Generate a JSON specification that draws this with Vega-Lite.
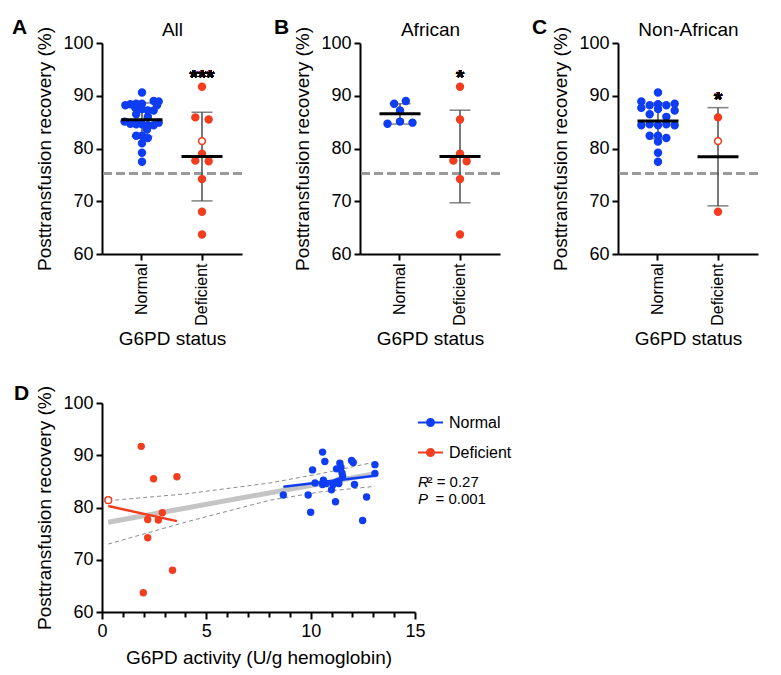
{
  "$schema": "https://vega.github.io/schema/vega-lite/v6.json",
  "padding": {"left": 12, "top": 17, "right": 5, "bottom": 5},
  "config": {
    "font": "Liberation Sans",
    "view": {"stroke": null},
    "axis": {"domainColor": "black", "domainWidth": 2, "tickColor": "black", "tickWidth": 2, "tickSize": 6, "labelFontSize": 18, "labelColor": "black", "titleFontSize": 19, "titleFontWeight": "normal", "titleColor": "black", "grid": false, "labelPadding": 3, "titlePadding": 8},
    "title": {"color": "black", "fontWeight": "bold", "fontSize": 21}
  },
  "datasets": {
    "swarm": [
      {"panel": "All", "status": "Normal", "recovery": 90.6, "slot": 0, "open": 0},
      {"panel": "All", "status": "Normal", "recovery": 89.0, "slot": 1.4, "open": 0},
      {"panel": "All", "status": "Normal", "recovery": 88.9, "slot": 2.0, "open": 0},
      {"panel": "All", "status": "Normal", "recovery": 88.5, "slot": 0, "open": 0},
      {"panel": "All", "status": "Normal", "recovery": 88.5, "slot": -0.7, "open": 0},
      {"panel": "All", "status": "Normal", "recovery": 88.4, "slot": -1.4, "open": 0},
      {"panel": "All", "status": "Normal", "recovery": 88.2, "slot": -2.0, "open": 0},
      {"panel": "All", "status": "Normal", "recovery": 88.2, "slot": 1.8, "open": 0},
      {"panel": "All", "status": "Normal", "recovery": 87.7, "slot": -0.8, "open": 0},
      {"panel": "All", "status": "Normal", "recovery": 87.5, "slot": 0, "open": 0},
      {"panel": "All", "status": "Normal", "recovery": 87.2, "slot": 0.7, "open": 0},
      {"panel": "All", "status": "Normal", "recovery": 87.2, "slot": 1.4, "open": 0},
      {"panel": "All", "status": "Normal", "recovery": 86.5, "slot": -0.7, "open": 0},
      {"panel": "All", "status": "Normal", "recovery": 86.0, "slot": 0.7, "open": 0},
      {"panel": "All", "status": "Normal", "recovery": 85.1, "slot": -2.1, "open": 0},
      {"panel": "All", "status": "Normal", "recovery": 84.9, "slot": 2.0, "open": 0},
      {"panel": "All", "status": "Normal", "recovery": 84.7, "slot": -1.4, "open": 0},
      {"panel": "All", "status": "Normal", "recovery": 84.6, "slot": -0.7, "open": 0},
      {"panel": "All", "status": "Normal", "recovery": 84.6, "slot": 0, "open": 0},
      {"panel": "All", "status": "Normal", "recovery": 84.4, "slot": 0.7, "open": 0},
      {"panel": "All", "status": "Normal", "recovery": 84.4, "slot": 1.4, "open": 0},
      {"panel": "All", "status": "Normal", "recovery": 83.6, "slot": 0.6, "open": 0},
      {"panel": "All", "status": "Normal", "recovery": 82.4, "slot": -0.7, "open": 0},
      {"panel": "All", "status": "Normal", "recovery": 82.4, "slot": 0, "open": 0},
      {"panel": "All", "status": "Normal", "recovery": 82.0, "slot": 0.7, "open": 0},
      {"panel": "All", "status": "Normal", "recovery": 81.0, "slot": 0, "open": 0},
      {"panel": "All", "status": "Normal", "recovery": 79.2, "slot": 0, "open": 0},
      {"panel": "All", "status": "Normal", "recovery": 77.5, "slot": 0, "open": 0},
      {"panel": "All", "status": "Deficient", "recovery": 91.7, "slot": 0, "open": 0},
      {"panel": "All", "status": "Deficient", "recovery": 85.9, "slot": -0.8, "open": 0},
      {"panel": "All", "status": "Deficient", "recovery": 85.5, "slot": 0.8, "open": 0},
      {"panel": "All", "status": "Deficient", "recovery": 81.4, "slot": 0, "open": 1},
      {"panel": "All", "status": "Deficient", "recovery": 79.0, "slot": 0, "open": 0},
      {"panel": "All", "status": "Deficient", "recovery": 77.7, "slot": -0.8, "open": 0},
      {"panel": "All", "status": "Deficient", "recovery": 77.6, "slot": 0.8, "open": 0},
      {"panel": "All", "status": "Deficient", "recovery": 74.2, "slot": 0, "open": 0},
      {"panel": "All", "status": "Deficient", "recovery": 68.0, "slot": 0, "open": 0},
      {"panel": "All", "status": "Deficient", "recovery": 63.7, "slot": 0, "open": 0},
      {"panel": "African", "status": "Normal", "recovery": 88.5, "slot": -0.7, "open": 0},
      {"panel": "African", "status": "Normal", "recovery": 89.0, "slot": 0.7, "open": 0},
      {"panel": "African", "status": "Normal", "recovery": 87.2, "slot": 0, "open": 0},
      {"panel": "African", "status": "Normal", "recovery": 84.7, "slot": -1.5, "open": 0},
      {"panel": "African", "status": "Normal", "recovery": 85.1, "slot": 0, "open": 0},
      {"panel": "African", "status": "Normal", "recovery": 84.9, "slot": 1.5, "open": 0},
      {"panel": "African", "status": "Deficient", "recovery": 91.7, "slot": 0, "open": 0},
      {"panel": "African", "status": "Deficient", "recovery": 85.5, "slot": 0, "open": 0},
      {"panel": "African", "status": "Deficient", "recovery": 79.0, "slot": 0, "open": 0},
      {"panel": "African", "status": "Deficient", "recovery": 77.7, "slot": -0.8, "open": 0},
      {"panel": "African", "status": "Deficient", "recovery": 77.6, "slot": 0.8, "open": 0},
      {"panel": "African", "status": "Deficient", "recovery": 74.2, "slot": 0, "open": 0},
      {"panel": "African", "status": "Deficient", "recovery": 63.7, "slot": 0, "open": 0},
      {"panel": "Non-African", "status": "Normal", "recovery": 90.6, "slot": 0, "open": 0},
      {"panel": "Non-African", "status": "Normal", "recovery": 88.9, "slot": -2, "open": 0},
      {"panel": "Non-African", "status": "Normal", "recovery": 88.5, "slot": 2, "open": 0},
      {"panel": "Non-African", "status": "Normal", "recovery": 88.2, "slot": -1, "open": 0},
      {"panel": "Non-African", "status": "Normal", "recovery": 88.4, "slot": 0, "open": 0},
      {"panel": "Non-African", "status": "Normal", "recovery": 88.2, "slot": 1, "open": 0},
      {"panel": "Non-African", "status": "Normal", "recovery": 87.7, "slot": -2, "open": 0},
      {"panel": "Non-African", "status": "Normal", "recovery": 87.5, "slot": 0, "open": 0},
      {"panel": "Non-African", "status": "Normal", "recovery": 87.2, "slot": 2, "open": 0},
      {"panel": "Non-African", "status": "Normal", "recovery": 86.5, "slot": -1, "open": 0},
      {"panel": "Non-African", "status": "Normal", "recovery": 86.0, "slot": 1, "open": 0},
      {"panel": "Non-African", "status": "Normal", "recovery": 84.4, "slot": -2, "open": 0},
      {"panel": "Non-African", "status": "Normal", "recovery": 84.6, "slot": -1, "open": 0},
      {"panel": "Non-African", "status": "Normal", "recovery": 84.4, "slot": 0, "open": 0},
      {"panel": "Non-African", "status": "Normal", "recovery": 84.6, "slot": 1, "open": 0},
      {"panel": "Non-African", "status": "Normal", "recovery": 84.4, "slot": 2, "open": 0},
      {"panel": "Non-African", "status": "Normal", "recovery": 82.4, "slot": -1, "open": 0},
      {"panel": "Non-African", "status": "Normal", "recovery": 82.4, "slot": 0, "open": 0},
      {"panel": "Non-African", "status": "Normal", "recovery": 82.0, "slot": 1, "open": 0},
      {"panel": "Non-African", "status": "Normal", "recovery": 81.3, "slot": 0, "open": 0},
      {"panel": "Non-African", "status": "Normal", "recovery": 79.2, "slot": 0, "open": 0},
      {"panel": "Non-African", "status": "Normal", "recovery": 77.5, "slot": 0, "open": 0},
      {"panel": "Non-African", "status": "Deficient", "recovery": 85.9, "slot": 0, "open": 0},
      {"panel": "Non-African", "status": "Deficient", "recovery": 81.4, "slot": 0, "open": 1},
      {"panel": "Non-African", "status": "Deficient", "recovery": 68.0, "slot": 0, "open": 0}
    ],
    "activity": [
      {"status": "Normal", "activity": 10.57, "recovery": 90.6, "open": 0},
      {"status": "Normal", "activity": 10.68, "recovery": 88.8, "open": 0},
      {"status": "Normal", "activity": 11.40, "recovery": 88.5, "open": 0},
      {"status": "Normal", "activity": 11.96, "recovery": 89.0, "open": 0},
      {"status": "Normal", "activity": 12.04, "recovery": 88.6, "open": 0},
      {"status": "Normal", "activity": 13.08, "recovery": 88.2, "open": 0},
      {"status": "Normal", "activity": 10.09, "recovery": 87.2, "open": 0},
      {"status": "Normal", "activity": 11.24, "recovery": 87.4, "open": 0},
      {"status": "Normal", "activity": 11.45, "recovery": 87.7, "open": 0},
      {"status": "Normal", "activity": 13.08, "recovery": 86.5, "open": 0},
      {"status": "Normal", "activity": 11.53, "recovery": 86.0, "open": 0},
      {"status": "Normal", "activity": 10.61, "recovery": 85.2, "open": 0},
      {"status": "Normal", "activity": 10.21, "recovery": 84.7, "open": 0},
      {"status": "Normal", "activity": 10.57, "recovery": 84.4, "open": 0},
      {"status": "Normal", "activity": 11.24, "recovery": 84.9, "open": 0},
      {"status": "Normal", "activity": 11.35, "recovery": 85.1, "open": 0},
      {"status": "Normal", "activity": 12.10, "recovery": 84.4, "open": 0},
      {"status": "Normal", "activity": 11.08, "recovery": 84.4, "open": 0},
      {"status": "Normal", "activity": 11.00, "recovery": 83.4, "open": 0},
      {"status": "Normal", "activity": 9.88, "recovery": 82.4, "open": 0},
      {"status": "Normal", "activity": 8.69, "recovery": 82.4, "open": 0},
      {"status": "Normal", "activity": 12.68, "recovery": 82.0, "open": 0},
      {"status": "Normal", "activity": 11.19, "recovery": 81.1, "open": 0},
      {"status": "Normal", "activity": 10.00, "recovery": 79.1, "open": 0},
      {"status": "Normal", "activity": 12.49, "recovery": 77.5, "open": 0},
      {"status": "Normal", "activity": 10.75, "recovery": 84.6, "open": 0},
      {"status": "Normal", "activity": 11.50, "recovery": 86.6, "open": 0},
      {"status": "Normal", "activity": 11.35, "recovery": 84.6, "open": 0},
      {"status": "Deficient", "activity": 1.88, "recovery": 91.7, "open": 0},
      {"status": "Deficient", "activity": 2.47, "recovery": 85.5, "open": 0},
      {"status": "Deficient", "activity": 3.59, "recovery": 85.9, "open": 0},
      {"status": "Deficient", "activity": 0.30, "recovery": 81.4, "open": 1},
      {"status": "Deficient", "activity": 2.89, "recovery": 79.0, "open": 0},
      {"status": "Deficient", "activity": 2.19, "recovery": 77.7, "open": 0},
      {"status": "Deficient", "activity": 2.70, "recovery": 77.6, "open": 0},
      {"status": "Deficient", "activity": 2.19, "recovery": 74.2, "open": 0},
      {"status": "Deficient", "activity": 3.38, "recovery": 68.0, "open": 0},
      {"status": "Deficient", "activity": 1.98, "recovery": 63.7, "open": 0}
    ],
    "band": [
      {"activity": 0.3, "upper": 81.3, "lower": 73.0},
      {"activity": 4.0, "upper": 82.6, "lower": 77.2},
      {"activity": 8.05, "upper": 84.7, "lower": 81.4},
      {"activity": 10.5, "upper": 86.5, "lower": 83.0},
      {"activity": 13.08, "upper": 88.7, "lower": 84.05}
    ]
  },
  "resolve": {
    "scale": {"color": "independent", "fill": "independent", "stroke": "independent"},
    "legend": {"color": "independent", "fill": "independent", "stroke": "independent"}
  },
  "vconcat": [
    {
      "spacing": 30,
      "hconcat": [
        {
          "width": 140, "height": 211,
          "title": {"text": "A", "anchor": "start", "frame": "group", "dx": -90, "dy": 22},
          "data": {"name": "swarm"},
          "transform": [{"filter": "datum.panel === 'All'"}],
          "resolve": {"axis": {"x": "independent", "y": "independent"}},
          "layer": [
            {"mark": {"type": "rule", "color": "#9a9a9a", "strokeWidth": 2.5, "strokeDash": [9, 4]},
             "encoding": {"y": {"datum": 75.3, "type": "quantitative", "scale": {"domain": [60, 100]}, "axis": null}}},
            {"mark": {"type": "errorbar", "extent": "stdev", "ticks": {"size": 21, "thickness": 1.5, "color": "#4d4d4d"}, "rule": {"strokeWidth": 1.5, "color": "#4d4d4d"}},
             "encoding": {"x": {"field": "status", "type": "nominal", "axis": null}, "y": {"field": "recovery", "type": "quantitative", "scale": {"domain": [60, 100]}, "axis": null}}},
            {"mark": {"type": "point", "shape": "circle", "filled": true, "size": 48, "strokeWidth": 1.5, "opacity": 1},
             "encoding": {
               "x": {"field": "status", "type": "nominal", "scale": {"type": "band", "domain": ["Normal", "Deficient"], "paddingInner": 0.3333, "paddingOuter": 0.3333}, "axis": {"title": "G6PD status", "labelAngle": -90, "labelFontSize": 16, "labelPadding": 3, "titlePadding": 4}},
               "xOffset": {"field": "slot", "type": "quantitative", "scale": {"domain": [-2.4, 2.4]}},
               "y": {"field": "recovery", "type": "quantitative", "scale": {"domain": [60, 100]}, "axis": {"title": "Posttransfusion recovery (%)", "values": [60, 70, 80, 90, 100]}},
               "fill": {"condition": {"test": "datum.open === 1", "value": "white"}, "field": "status", "type": "nominal", "scale": {"domain": ["Normal", "Deficient"], "range": ["#0f3df2", "#f23d1f"]}, "legend": null},
               "stroke": {"field": "status", "type": "nominal", "scale": {"domain": ["Normal", "Deficient"], "range": ["#0f3df2", "#f23d1f"]}, "legend": null}
             }},
            {"mark": {"type": "tick", "color": "black", "thickness": 3, "size": 41},
             "encoding": {"x": {"field": "status", "type": "nominal", "axis": {"orient": "top", "title": "All", "labels": false, "ticks": false, "domain": false, "titlePadding": 4}}, "y": {"aggregate": "mean", "field": "recovery", "type": "quantitative", "scale": {"domain": [60, 100]}, "axis": null}}},
            {"mark": {"type": "text", "text": "***", "fontSize": 21, "fontWeight": "bold", "baseline": "alphabetic"},
             "encoding": {"x": {"datum": "Deficient", "type": "nominal", "axis": null}, "y": {"datum": 92.3, "type": "quantitative", "scale": {"domain": [60, 100]}, "axis": null}}}
          ]
        },
        {
          "width": 140, "height": 211,
          "title": {"text": "B", "anchor": "start", "frame": "group", "dx": -86, "dy": 22},
          "data": {"name": "swarm"},
          "transform": [{"filter": "datum.panel === 'African'"}],
          "resolve": {"axis": {"x": "independent", "y": "independent"}},
          "layer": [
            {"mark": {"type": "rule", "color": "#9a9a9a", "strokeWidth": 2.5, "strokeDash": [9, 4]},
             "encoding": {"y": {"datum": 75.3, "type": "quantitative", "scale": {"domain": [60, 100]}, "axis": null}}},
            {"mark": {"type": "errorbar", "extent": "stdev", "ticks": {"size": 21, "thickness": 1.5, "color": "#4d4d4d"}, "rule": {"strokeWidth": 1.5, "color": "#4d4d4d"}},
             "encoding": {"x": {"field": "status", "type": "nominal", "axis": null}, "y": {"field": "recovery", "type": "quantitative", "scale": {"domain": [60, 100]}, "axis": null}}},
            {"mark": {"type": "point", "shape": "circle", "filled": true, "size": 48, "strokeWidth": 1.5, "opacity": 1},
             "encoding": {
               "x": {"field": "status", "type": "nominal", "scale": {"type": "band", "domain": ["Normal", "Deficient"], "paddingInner": 0.3333, "paddingOuter": 0.3333}, "axis": {"title": "G6PD status", "labelAngle": -90, "labelFontSize": 16, "labelPadding": 3, "titlePadding": 4}},
               "xOffset": {"field": "slot", "type": "quantitative", "scale": {"domain": [-2.4, 2.4]}},
               "y": {"field": "recovery", "type": "quantitative", "scale": {"domain": [60, 100]}, "axis": {"title": "Posttransfusion recovery (%)", "values": [60, 70, 80, 90, 100]}},
               "fill": {"condition": {"test": "datum.open === 1", "value": "white"}, "field": "status", "type": "nominal", "scale": {"domain": ["Normal", "Deficient"], "range": ["#0f3df2", "#f23d1f"]}, "legend": null},
               "stroke": {"field": "status", "type": "nominal", "scale": {"domain": ["Normal", "Deficient"], "range": ["#0f3df2", "#f23d1f"]}, "legend": null}
             }},
            {"mark": {"type": "tick", "color": "black", "thickness": 3, "size": 41},
             "encoding": {"x": {"field": "status", "type": "nominal", "axis": {"orient": "top", "title": "African", "labels": false, "ticks": false, "domain": false, "titlePadding": 4}}, "y": {"aggregate": "mean", "field": "recovery", "type": "quantitative", "scale": {"domain": [60, 100]}, "axis": null}}},
            {"mark": {"type": "text", "text": "*", "fontSize": 21, "fontWeight": "bold", "baseline": "alphabetic"},
             "encoding": {"x": {"datum": "Deficient", "type": "nominal", "axis": null}, "y": {"datum": 92.3, "type": "quantitative", "scale": {"domain": [60, 100]}, "axis": null}}}
          ]
        },
        {
          "width": 140, "height": 211,
          "title": {"text": "C", "anchor": "start", "frame": "group", "dx": -86, "dy": 22},
          "data": {"name": "swarm"},
          "transform": [{"filter": "datum.panel === 'Non-African'"}],
          "resolve": {"axis": {"x": "independent", "y": "independent"}},
          "layer": [
            {"mark": {"type": "rule", "color": "#9a9a9a", "strokeWidth": 2.5, "strokeDash": [9, 4]},
             "encoding": {"y": {"datum": 75.3, "type": "quantitative", "scale": {"domain": [60, 100]}, "axis": null}}},
            {"mark": {"type": "errorbar", "extent": "stdev", "ticks": {"size": 21, "thickness": 1.5, "color": "#4d4d4d"}, "rule": {"strokeWidth": 1.5, "color": "#4d4d4d"}},
             "encoding": {"x": {"field": "status", "type": "nominal", "axis": null}, "y": {"field": "recovery", "type": "quantitative", "scale": {"domain": [60, 100]}, "axis": null}}},
            {"mark": {"type": "point", "shape": "circle", "filled": true, "size": 48, "strokeWidth": 1.5, "opacity": 1},
             "encoding": {
               "x": {"field": "status", "type": "nominal", "scale": {"type": "band", "domain": ["Normal", "Deficient"], "paddingInner": 0.3333, "paddingOuter": 0.3333}, "axis": {"title": "G6PD status", "labelAngle": -90, "labelFontSize": 16, "labelPadding": 3, "titlePadding": 4}},
               "xOffset": {"field": "slot", "type": "quantitative", "scale": {"domain": [-2.4, 2.4]}},
               "y": {"field": "recovery", "type": "quantitative", "scale": {"domain": [60, 100]}, "axis": {"title": "Posttransfusion recovery (%)", "values": [60, 70, 80, 90, 100]}},
               "fill": {"condition": {"test": "datum.open === 1", "value": "white"}, "field": "status", "type": "nominal", "scale": {"domain": ["Normal", "Deficient"], "range": ["#0f3df2", "#f23d1f"]}, "legend": null},
               "stroke": {"field": "status", "type": "nominal", "scale": {"domain": ["Normal", "Deficient"], "range": ["#0f3df2", "#f23d1f"]}, "legend": null}
             }},
            {"mark": {"type": "tick", "color": "black", "thickness": 3, "size": 41},
             "encoding": {"x": {"field": "status", "type": "nominal", "axis": {"orient": "top", "title": "Non-African", "labels": false, "ticks": false, "domain": false, "titlePadding": 4}}, "y": {"aggregate": "mean", "field": "recovery", "type": "quantitative", "scale": {"domain": [60, 100]}, "axis": null}}},
            {"mark": {"type": "text", "text": "*", "fontSize": 21, "fontWeight": "bold", "baseline": "alphabetic"},
             "encoding": {"x": {"datum": "Deficient", "type": "nominal", "axis": null}, "y": {"datum": 88.1, "type": "quantitative", "scale": {"domain": [60, 100]}, "axis": null}}}
          ]
        }
      ]
    },
    {
      "width": 313, "height": 209,
      "title": {"text": "D", "anchor": "start", "frame": "group", "dx": -88, "dy": 22},
      "resolve": {"axis": {"x": "independent", "y": "independent"}},
      "layer": [
        {"data": {"name": "band"}, "mark": {"type": "line", "color": "#8c8c8c", "strokeWidth": 1, "strokeDash": [4, 3]},
         "encoding": {"x": {"field": "activity", "type": "quantitative", "scale": {"domain": [0, 15]}, "axis": null}, "y": {"field": "upper", "type": "quantitative", "scale": {"domain": [60, 100]}, "axis": null}}},
        {"data": {"name": "band"}, "mark": {"type": "line", "color": "#8c8c8c", "strokeWidth": 1, "strokeDash": [4, 3]},
         "encoding": {"x": {"field": "activity", "type": "quantitative", "scale": {"domain": [0, 15]}, "axis": null}, "y": {"field": "lower", "type": "quantitative", "scale": {"domain": [60, 100]}, "axis": null}}},
        {"data": {"name": "activity"}, "transform": [{"regression": "recovery", "on": "activity"}], "mark": {"type": "line", "color": "#c4c4c4", "strokeWidth": 5},
         "encoding": {"x": {"field": "activity", "type": "quantitative", "scale": {"domain": [0, 15]}, "axis": null}, "y": {"field": "recovery", "type": "quantitative", "scale": {"domain": [60, 100]}, "axis": null}}},
        {"data": {"name": "activity"}, "mark": {"type": "point", "shape": "circle", "filled": true, "size": 55, "opacity": 1},
         "encoding": {
           "x": {"field": "activity", "type": "quantitative", "scale": {"domain": [0, 15]}, "axis": {"title": "G6PD activity (U/g hemoglobin)", "values": [0, 1, 2, 3, 4, 5, 6, 7, 8, 9, 10, 11, 12, 13, 14, 15], "labelExpr": "datum.value % 5 === 0 ? datum.label : ''", "tickSize": {"condition": {"test": "datum.value % 5 === 0", "value": 7}, "value": 5}, "labelFlush": false}},
           "y": {"field": "recovery", "type": "quantitative", "scale": {"domain": [60, 100]}, "axis": {"title": "Posttransfusion recovery (%)", "values": [60, 70, 80, 90, 100]}},
           "color": {"field": "status", "type": "nominal", "scale": {"domain": ["Normal", "Deficient"], "range": ["#0f3df2", "#f23d1f"]},
             "legend": {"title": null, "orient": "none", "legendX": 316, "legendY": 7, "symbolType": "M-1,-0.08L1,-0.08L1,0.08L-1,0.08Z M-0.36,0A0.36,0.36 0 1,1 0.36,0A0.36,0.36 0 1,1 -0.36,0Z", "symbolSize": 625, "symbolStrokeWidth": 0, "symbolOpacity": 1, "labelFontSize": 16, "labelColor": "black", "rowPadding": 9, "labelOffset": 6}}
         }},
        {"data": {"name": "activity"}, "transform": [{"filter": "datum.open === 1"}], "mark": {"type": "point", "shape": "circle", "filled": true, "size": 45, "strokeWidth": 1.5, "opacity": 1, "fill": "white", "stroke": "#f23d1f"},
         "encoding": {"x": {"field": "activity", "type": "quantitative", "scale": {"domain": [0, 15]}, "axis": null}, "y": {"field": "recovery", "type": "quantitative", "scale": {"domain": [60, 100]}, "axis": null}}},
        {"data": {"name": "activity"}, "transform": [{"regression": "recovery", "on": "activity", "groupby": ["status"]}], "mark": {"type": "line", "strokeWidth": 2.5},
         "encoding": {"x": {"field": "activity", "type": "quantitative", "scale": {"domain": [0, 15]}, "axis": null}, "y": {"field": "recovery", "type": "quantitative", "scale": {"domain": [60, 100]}, "axis": null}, "stroke": {"field": "status", "type": "nominal", "scale": {"domain": ["Normal", "Deficient"], "range": ["#0f3df2", "#f23d1f"]}, "legend": null}}},
        {"data": {"values": [{}]}, "mark": {"type": "text", "text": "R", "fontSize": 15, "fontStyle": "italic", "align": "left", "baseline": "alphabetic"},
         "encoding": {"x": {"datum": 15.14, "type": "quantitative", "scale": {"domain": [0, 15]}, "axis": null}, "y": {"datum": 84.0, "type": "quantitative", "scale": {"domain": [60, 100]}, "axis": null}}},
        {"data": {"values": [{}]}, "mark": {"type": "text", "text": "² = 0.27", "fontSize": 15, "align": "left", "baseline": "alphabetic"},
         "encoding": {"x": {"datum": 15.6, "type": "quantitative", "scale": {"domain": [0, 15]}, "axis": null}, "y": {"datum": 84.0, "type": "quantitative", "scale": {"domain": [60, 100]}, "axis": null}}},
        {"data": {"values": [{}]}, "mark": {"type": "text", "text": "P", "fontSize": 15, "fontStyle": "italic", "align": "left", "baseline": "alphabetic"},
         "encoding": {"x": {"datum": 15.14, "type": "quantitative", "scale": {"domain": [0, 15]}, "axis": null}, "y": {"datum": 80.6, "type": "quantitative", "scale": {"domain": [60, 100]}, "axis": null}}},
        {"data": {"values": [{}]}, "mark": {"type": "text", "text": "= 0.001", "fontSize": 15, "align": "left", "baseline": "alphabetic"},
         "encoding": {"x": {"datum": 15.98, "type": "quantitative", "scale": {"domain": [0, 15]}, "axis": null}, "y": {"datum": 80.6, "type": "quantitative", "scale": {"domain": [60, 100]}, "axis": null}}}
      ]
    }
  ],
  "spacing": 33
}
